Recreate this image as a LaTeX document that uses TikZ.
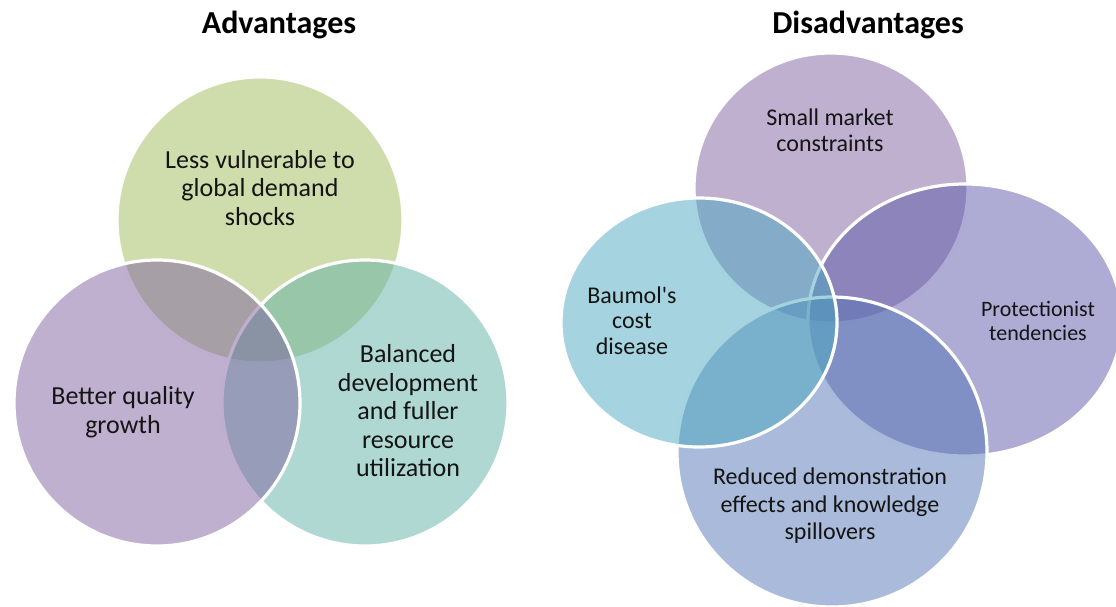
\documentclass[tikz,border=0pt]{standalone}
\usepackage{fontspec}
\setmainfont{Carlito}
\definecolor{cgreen}{RGB}{159,187,89}
\definecolor{cpurple}{RGB}{127,97,161}
\definecolor{cteal}{RGB}{97,177,165}
\definecolor{caqua}{RGB}{75,169,193}
\definecolor{cviolet}{RGB}{93,89,169}
\definecolor{cblue}{RGB}{83,117,181}
\definecolor{txt}{RGB}{20,20,20}
\tikzset{
  venn/.style={fill=#1, fill opacity=0.5, draw=white, draw opacity=1, line width=3.2pt},
  title/.style={font=\bfseries\fontsize{32pt}{36pt}\selectfont, text=black, inner sep=0pt},
  lbl/.style 2 args={align=center, text=txt, inner sep=0pt, font=\fontsize{#1}{#2}\selectfont},
}
\begin{document}
\begin{tikzpicture}[x=1pt,y=-1pt]
\useasboundingbox (0,0) rectangle (1116,607);
\clip (0,0) rectangle (1116,607);
% ---------- Advantages ----------
\path[venn=cgreen]  (260,220) ellipse [x radius=143pt, y radius=143pt];
\path[venn=cteal]   (365,403) ellipse [x radius=143pt, y radius=143pt];
\path[venn=cpurple] (157,403) ellipse [x radius=143pt, y radius=143pt];
% ---------- Disadvantages ----------
\path[venn=cpurple] (831,188) ellipse [x radius=137pt, y radius=135pt];
\path[venn=cviolet] (965,320) ellipse [x radius=157pt, y radius=136pt];
\path[venn=cblue]   (832,452) ellipse [x radius=155pt, y radius=155pt];
\path[venn=caqua]   (699,322.5) ellipse [x radius=138pt, y radius=124.5pt];
% ---------- Titles ----------
\node[title] (tA) at (279,25) {Advantages};
\node[title] (tD) at (868,25) {Disadvantages};
% ---------- Labels ----------
\node[lbl={26pt}{28.5pt}] (a1) at (260,188) {Less vulnerable to\\global demand\\shocks};
\node[lbl={26pt}{28.5pt}] (a2) at (123,412) {Better quality\\growth};
\node[lbl={26pt}{28.5pt}] (a3) at (408,411) {Balanced\\development\\and fuller\\resource\\utilization};
\node[lbl={24pt}{26pt}] (d1) at (830,130) {Small market\\constraints};
\node[lbl={24pt}{25.5pt}] (d2) at (632,320.5) {Baumol\textquotesingle s\\cost\\disease};
\node[lbl={22pt}{24pt}] (d3) at (1038,321) {Protectionist\\tendencies};
\node[lbl={24pt}{27.5pt}] (d4) at (830,506) {Reduced demonstration\\effects and knowledge\\spillovers};
\end{tikzpicture}
\end{document}
